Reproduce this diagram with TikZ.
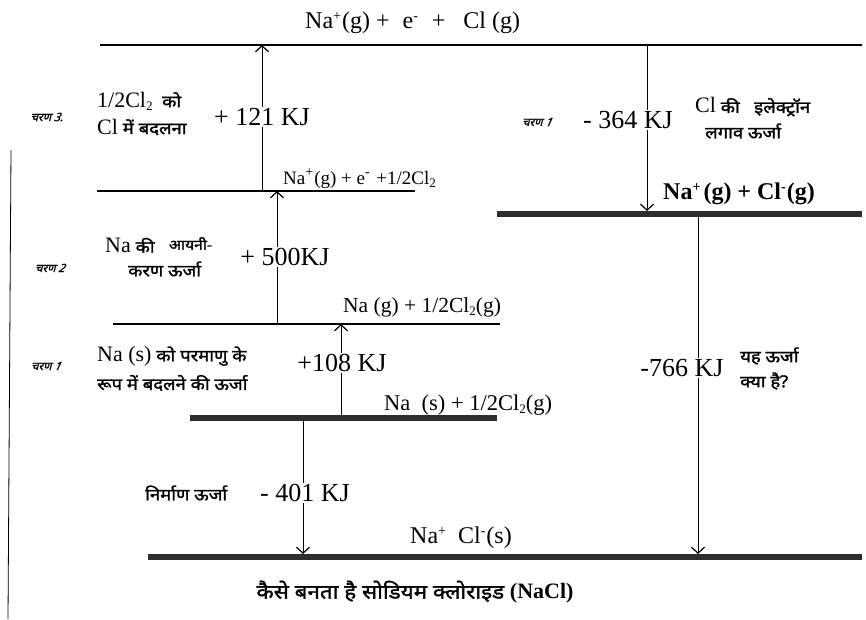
\documentclass[tikz,border=0pt]{standalone}
\usepackage{fontspec}
\setmainfont{Liberation Serif}
\newfontfamily\hi[Script=Devanagari,FakeBold=1.6,FakeStretch=1.12]{Noto Sans}
\newfontfamily\hisl[Script=Devanagari,FakeSlant=0.25,FakeBold=1.2]{Noto Sans}
\usetikzlibrary{arrows.meta}
\newcommand{\sps}[1]{\raisebox{7.5pt}{\fontsize{14}{14}\selectfont #1}}
\newcommand{\sbs}[1]{\raisebox{-3pt}{\fontsize{13}{13}\selectfont #1}}
\newcommand{\lat}[1]{{\fontsize{22}{24}\selectfont\rmfamily\mdseries #1}}
\begin{document}
\begin{tikzpicture}[x=1pt,y=-1pt,
  thinlvl/.style={line width=1.1pt},
  barlvl/.style={line width=6pt,draw=black!82},
  conn/.style={line width=1pt,-{Straight Barb[length=6pt,width=13pt,line width=1.2pt]}},
  lvltxt/.style={font=\fontsize{21.5}{23}\selectfont,inner sep=0pt,anchor=base west},
  energy/.style={font=\fontsize{26}{28}\selectfont,fill=white,inner sep=1pt},
  note/.style={font=\fontsize{16.5}{18}\selectfont\hi\bfseries,inner sep=0pt,anchor=west},
  stepl/.style={font=\fontsize{11.5}{13}\selectfont\hisl\bfseries,inner sep=0pt}]
\useasboundingbox (0,0) rectangle (866,619);
% left margin line
\draw[line width=0.8pt] (11,150) -- (8,619);
% levels
\draw[thinlvl] (100,45) -- (862,45);
\draw[thinlvl] (97,191) -- (415,191);
\draw[barlvl] (497,214) -- (862,214);
\draw[thinlvl] (113,324) -- (500,324);
\draw[barlvl] (190,418) -- (497,418);
\draw[barlvl] (148,557) -- (862,557);
% coordinates for connectors
\coordinate (s3b) at (262,191);  \coordinate (s3t) at (262,45);
\coordinate (s2b) at (277,324);  \coordinate (s2t) at (277,191);
\coordinate (s1b) at (341,415);  \coordinate (s1t) at (341,324);
\coordinate (eat) at (647,45);   \coordinate (eab) at (647,211);
\coordinate (lat) at (698,217);  \coordinate (lab) at (698,554);
\coordinate (fmt) at (303,421);  \coordinate (fmb) at (303,554);
% connectors
\draw[conn] (s3b) -- (s3t);
\draw[conn] (s2b) -- (s2t);
\draw[conn] (s1b) -- (s1t);
\draw[conn] (eat) -- (eab);
\draw[conn] (lat) -- (lab);
\draw[conn] (fmt) -- (fmb);
% energy labels
\node[energy] (e121) at (262,117) {+ 121 KJ};
\node[energy] (e500) at (285,257) {+ 500KJ};
\node[energy] (e108) at (342,363) {+108 KJ};
\node[energy] (e364) at (628,120) {- 364 KJ};
\node[energy] (e766) at (682,368) {-766 KJ};
\node[energy] (e401) at (305,493) {- 401 KJ};
% level labels
\node[lvltxt,font=\fontsize{24}{26}\selectfont] (ltop) at (305,28) {Na\sps{+}\hspace{1pt}(g) +\hspace{13pt}e\sps{-}\hspace{8pt} +\hspace{18pt}Cl (g)};
\node[lvltxt,font=\fontsize{19}{21}\selectfont] (l2) at (283,184) {Na\sps{+}\hspace{1pt}(g) + e\sps{-}\hspace{2pt} +1/2Cl\sbs{2}};
\node[lvltxt,font=\fontsize{24}{26}\selectfont\bfseries] (lion) at (663,199) {Na\sps{+}\hspace{3pt}(g) + Cl\sps{-}\hspace{1pt}(g)};
\node[lvltxt] (lnag) at (343,312) {Na (g) + 1/2Cl\sbs{2}(g)};
\node[lvltxt,font=\fontsize{22.5}{24}\selectfont] (lnas) at (384,410) {Na\ \ (s) + 1/2Cl\sbs{2}(g)};
\node[lvltxt,font=\fontsize{24}{26}\selectfont] (lnacl) at (410,543) {Na\sps{+}\ \ Cl\sps{-}\hspace{1pt}(s)};
% step labels
\node[stepl] (st3) at (47,117) {चरण \textit{3.}};
\node[stepl] (st2) at (50,268) {चरण \textit{2}};
\node[stepl] (st1) at (46,366) {चरण \textit{1}};
\node[stepl] (st1r) at (537,122) {चरण \textit{1}};
% notes
\node[note] (n3a) at (97,101) {\lat{1/2Cl\sbs{2}}\ \ को};
\node[note] (n3b) at (97,127) {\lat{Cl} में बदलना};
\node[note] (n2a) at (105,245) {\lat{Na} की\ \ \ \raisebox{3pt}{\fontsize{14}{15}\selectfont आयनी-}};
\node[note] (n2b) at (128,269) {करण ऊर्जा};
\node[note] (n1a) at (97,356) {\lat{Na (s)} को परमाणु के};
\node[note] (n1b) at (97,383) {रूप में बदलने की ऊर्जा};
\node[note] (nf) at (145,493) {निर्माण ऊर्जा};
\node[note] (nea) at (695,107) {\lat{Cl}\ की\ \ \ इलेक्ट्रॉन};
\node[note] (neb) at (705,131) {लगाव ऊर्जा};
\node[note] (nla) at (740,356) {यह ऊर्जा};
\node[note] (nlb) at (740,381) {क्या है?};
% caption
\node[inner sep=0pt,font=\fontsize{20}{22}\selectfont\hi\bfseries] (cap) at (415,592) {कैसे बनता है सोडियम क्लोराइड {\rmfamily\bfseries\fontsize{22}{24}\selectfont (NaCl)}};
\end{tikzpicture}
\end{document}
